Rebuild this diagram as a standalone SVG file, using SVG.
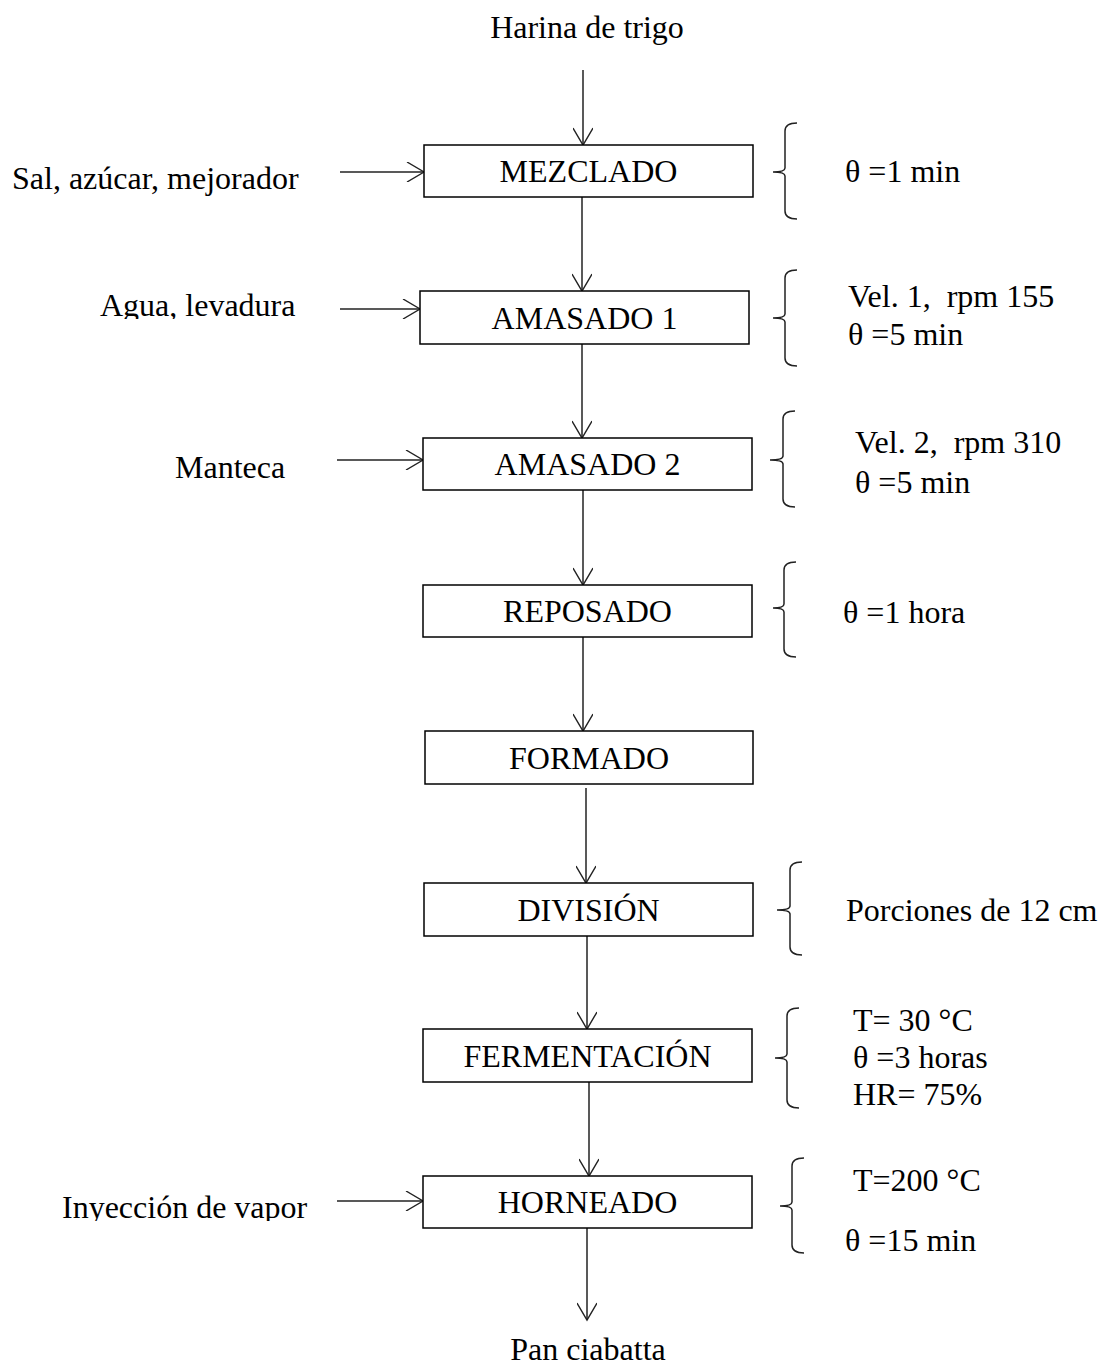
<svg xmlns="http://www.w3.org/2000/svg" width="1102" height="1367" viewBox="0 0 1102 1367">
<style>
text{font-family:"Liberation Serif","Times New Roman",serif;font-size:32px;fill:#000;white-space:pre}
.c{text-anchor:middle}
.box{fill:#fff;stroke:#000;stroke-width:1.5}
.ln{stroke:#222;stroke-width:1.5;fill:none}
.br{stroke:#222;stroke-width:1.5;fill:none}
</style>
<defs>
<marker id="ah" viewBox="0 0 20 20" markerWidth="20" markerHeight="20" markerUnits="userSpaceOnUse" refX="18" refY="10" orient="auto">
<path d="M1,0 L18,10 L1,20" fill="none" stroke="#222" stroke-width="1.4"/>
</marker>
<clipPath id="clipAgua"><rect x="0" y="280" width="330" height="39"/></clipPath>
<clipPath id="clipIny"><rect x="0" y="1180" width="330" height="41"/></clipPath>
</defs>
<rect width="1102" height="1367" fill="#fff"/>
<g id="connectors">
<line class="ln" x1="583" y1="70" x2="583" y2="145" marker-end="url(#ah)"/>
<line class="ln" x1="582" y1="197" x2="582" y2="291" marker-end="url(#ah)"/>
<line class="ln" x1="582" y1="344" x2="582" y2="438" marker-end="url(#ah)"/>
<line class="ln" x1="583" y1="490" x2="583" y2="585" marker-end="url(#ah)"/>
<line class="ln" x1="583" y1="637" x2="583" y2="731" marker-end="url(#ah)"/>
<line class="ln" x1="586" y1="788" x2="586" y2="883" marker-end="url(#ah)"/>
<line class="ln" x1="587" y1="936" x2="587" y2="1029" marker-end="url(#ah)"/>
<line class="ln" x1="589" y1="1082" x2="589" y2="1176" marker-end="url(#ah)"/>
<line class="ln" x1="587" y1="1228" x2="587" y2="1320" marker-end="url(#ah)"/>
<line class="ln" x1="340" y1="172" x2="424" y2="172" marker-end="url(#ah)"/>
<line class="ln" x1="340" y1="309" x2="420" y2="309" marker-end="url(#ah)"/>
<line class="ln" x1="337" y1="460" x2="423" y2="460" marker-end="url(#ah)"/>
<line class="ln" x1="337" y1="1201" x2="423" y2="1201" marker-end="url(#ah)"/>
</g>
<g id="inputs">
<text class="c" x="587" y="38">Harina de trigo</text>
<text x="12" y="189">Sal, azúcar, mejorador</text>
<text x="100" y="316" clip-path="url(#clipAgua)">Agua, levadura</text>
<text x="175" y="478">Manteca</text>
<text x="62" y="1218" clip-path="url(#clipIny)">Inyección de vapor</text>
<text class="c" x="588" y="1360">Pan ciabatta</text>
</g>
<g id="n-mezclado"><rect class="box" x="424" y="145" width="329" height="52"/><text class="c" x="588.5" y="182">MEZCLADO</text></g>
<g id="n-amasado1"><rect class="box" x="420" y="291" width="329" height="53"/><text class="c" x="584.5" y="329">AMASADO 1</text></g>
<g id="n-amasado2"><rect class="box" x="423" y="438" width="329" height="52"/><text class="c" x="587.5" y="475">AMASADO 2</text></g>
<g id="n-reposado"><rect class="box" x="423" y="585" width="329" height="52"/><text class="c" x="587.5" y="622">REPOSADO</text></g>
<g id="n-formado"><rect class="box" x="425" y="731" width="328" height="53"/><text class="c" x="589" y="769">FORMADO</text></g>
<g id="n-division"><rect class="box" x="424" y="883" width="329" height="53"/><text class="c" x="588.5" y="921">DIVISIÓN</text></g>
<g id="n-fermentacion"><rect class="box" x="423" y="1029" width="329" height="53"/><text class="c" x="587.5" y="1067">FERMENTACIÓN</text></g>
<g id="n-horneado"><rect class="box" x="423" y="1176" width="329" height="52"/><text class="c" x="587.5" y="1213">HORNEADO</text></g>
<g id="annotations">
<path class="br" d="M797,123 Q785,123 785,131 L785,168 Q785,172 773,172 Q785,172 785,176 L785,211 Q785,219 797,219"/>
<text x="845" y="182">θ =1 min</text>
<path class="br" d="M797,270 Q785,270 785,278 L785,314 Q785,318 773,318 Q785,318 785,322 L785,358 Q785,366 797,366"/>
<text x="848" y="307">Vel. 1,  rpm 155</text>
<text x="848" y="345">θ =5 min</text>
<path class="br" d="M795,411 Q783,411 783,419 L783,456 Q783,460 770,460 Q783,460 783,464 L783,499 Q783,507 795,507"/>
<text x="855" y="453">Vel. 2,  rpm 310</text>
<text x="855" y="493">θ =5 min</text>
<path class="br" d="M796,562 Q784,562 784,570 L784,604 Q784,608 773,608 Q784,608 784,612 L784,649 Q784,657 796,657"/>
<text x="843" y="623">θ =1 hora</text>
<path class="br" d="M802,862 Q790,862 790,870 L790,906 Q790,910 777,910 Q790,910 790,914 L790,947 Q790,955 802,955"/>
<text x="846" y="921">Porciones de 12 cm</text>
<path class="br" d="M799,1008 Q787,1008 787,1016 L787,1054 Q787,1058 775,1058 Q787,1058 787,1062 L787,1100 Q787,1108 799,1108"/>
<text x="853" y="1031">T= 30 °C</text>
<text x="853" y="1068">θ =3 horas</text>
<text x="853" y="1105">HR= 75%</text>
<path class="br" d="M804,1158 Q792,1158 792,1166 L792,1202 Q792,1206 780,1206 Q792,1206 792,1210 L792,1245 Q792,1253 804,1253"/>
<text x="853" y="1191">T=200 °C</text>
<text x="845" y="1251">θ =15 min</text>
</g>
</svg>
